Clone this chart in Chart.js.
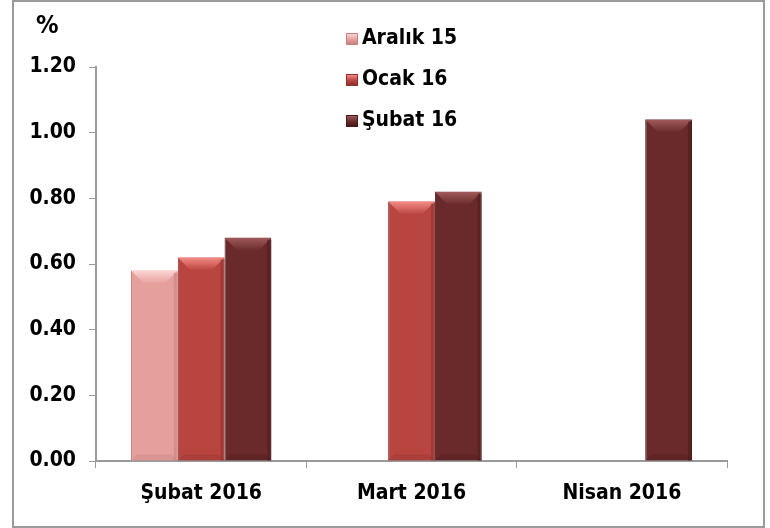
<!DOCTYPE html>
<html>
<head>
<meta charset="utf-8">
<script src="https://cdn.jsdelivr.net/npm/chart.js@4"></script>
<style>
  html, body { margin: 0; padding: 0; background: #fff; }
  #wrap { position: relative; width: 770px; height: 528px; }
  #frame { position: absolute; left: 12px; top: 0; width: 749px; height: 524px; border: 2px solid #9a9a9a; box-sizing: content-box; }
  canvas { position: absolute; left: 0; top: 0; }
  .txt { position: absolute; font-family: 'DejaVu Sans Condensed', 'DejaVu Sans', sans-serif; font-weight: bold; font-size: 21px; color: #000; white-space: nowrap; }
  #unit { left: 36px; top: 10px; font-size: 25px; }
  #legend { position: absolute; left: 346px; top: 28px; }
  .item { position: relative; height: 41px; }
  .box { position: absolute; left: 0; top: 5px; width: 12px; height: 12px; }
  .item span { position: absolute; left: 16px; top: -3px; }
</style>
</head>
<body>
<div id="wrap">
  <div id="frame"></div>
  <canvas id="chart" width="770" height="528"></canvas>
  <div id="unit" class="txt">%</div>
  <div id="legend"></div>
</div>
<script>
const categories = ['Şubat 2016', 'Mart 2016', 'Nisan 2016'];
const seriesNames = ['Aralık 15', 'Ocak 16', 'Şubat 16'];
const aralik15 = [0.58, null, null];
const ocak16 = [0.62, 0.79, null];
const subat16 = [0.68, 0.82, 1.04];
const yTicks = [0, 0.2, 0.4, 0.6, 0.8, 1.0, 1.2];

const bodyColors = ['#e5a09e', '#b94541', '#6a2a2b'];
const lightColors = ['#fcd6d4', '#f58a84', '#a05a5a'];
const darkColors = ['#c7807e', '#8f302d', '#4a1a1b'];
const FONT = "'DejaVu Sans Condensed', 'DejaVu Sans', sans-serif";

const legend = document.getElementById('legend');
seriesNames.forEach((name, i) => {
    const item = document.createElement('div');
    item.className = 'item';
    const box = document.createElement('div');
    box.className = 'box';
    box.style.background = `linear-gradient(180deg, ${lightColors[i]} 0%, ${bodyColors[i]} 55%, ${darkColors[i]} 100%)`;
    box.style.border = `1px solid ${darkColors[i]}`;
    box.style.boxSizing = 'border-box';
    const label = document.createElement('span');
    label.className = 'txt';
    label.textContent = name;
    item.appendChild(box);
    item.appendChild(label);
    legend.appendChild(item);
});

// bevel look on top of each bar
const bevelPlugin = {
    id: 'bevel',
    afterDatasetsDraw(chart) {
        const ctx = chart.ctx;
        chart.data.datasets.forEach((ds, di) => {
            const meta = chart.getDatasetMeta(di);
            meta.data.forEach((bar, i) => {
                if (ds.data[i] == null) return;
                const { x, y, width, base } = bar.getProps(['x', 'y', 'width', 'base'], true);
                const l = x - width / 2, r = x + width / 2;
                const b = 13;
                ctx.save();
                // top facet
                const g = ctx.createLinearGradient(0, y, 0, y + b);
                g.addColorStop(0, lightColors[di]);
                g.addColorStop(1, bodyColors[di]);
                ctx.fillStyle = g;
                ctx.beginPath();
                ctx.moveTo(l, y);
                ctx.lineTo(r, y);
                ctx.lineTo(r - b, y + b);
                ctx.lineTo(l + b, y + b);
                ctx.closePath();
                ctx.fill();
                // right facet
                ctx.fillStyle = darkColors[di];
                ctx.globalAlpha = 0.55;
                ctx.fillRect(r - 4, y + 2, 4, base - y - 2);
                // bottom facet
                ctx.globalAlpha = 0.35;
                ctx.beginPath();
                ctx.moveTo(l, base);
                ctx.lineTo(r, base);
                ctx.lineTo(r - 6, base - 6);
                ctx.lineTo(l + 6, base - 6);
                ctx.closePath();
                ctx.fill();
                ctx.restore();
            });
        });
    }
};

const values = [aralik15, ocak16, subat16];
new Chart(document.getElementById('chart'), {
    type: 'bar',
    data: {
        labels: categories,
        datasets: seriesNames.map((name, i) => ({
            label: name,
            data: values[i],
            backgroundColor: bodyColors[i],
            borderColor: darkColors[i],
            borderWidth: 1,
            categoryPercentage: 0.667,
            barPercentage: 1.0
        }))
    },
    options: {
        responsive: false,
        animation: false,
        layout: { padding: { top: 67, right: 43, left: 0, bottom: 0 } },
        plugins: {
            legend: { display: false },
            tooltip: { enabled: false }
        },
        scales: {
            x: {
                afterFit: (scale) => { scale.height = 67; },
                grid: { drawOnChartArea: false, drawTicks: true, tickLength: 7, color: '#9a9a9a', offset: true },
                border: { display: true, color: '#9a9a9a', width: 2 },
                ticks: { color: '#000', font: { family: FONT, size: 21, weight: 'bold' }, padding: 13 }
            },
            y: {
                min: 0,
                max: 1.2,
                afterFit: (scale) => { scale.width = 96; },
                afterBuildTicks: (scale) => { scale.ticks = yTicks.map(v => ({ value: v })); },
                grid: { drawOnChartArea: false, drawTicks: true, tickLength: 7, color: '#9a9a9a' },
                border: { display: true, color: '#9a9a9a', width: 2 },
                ticks: {
                    color: '#000',
                    font: { family: FONT, size: 21, weight: 'bold' },
                    padding: 13,
                    callback: (v) => Number(v).toFixed(2)
                }
            }
        }
    },
    plugins: [bevelPlugin]
});
</script>
</body>
</html>
